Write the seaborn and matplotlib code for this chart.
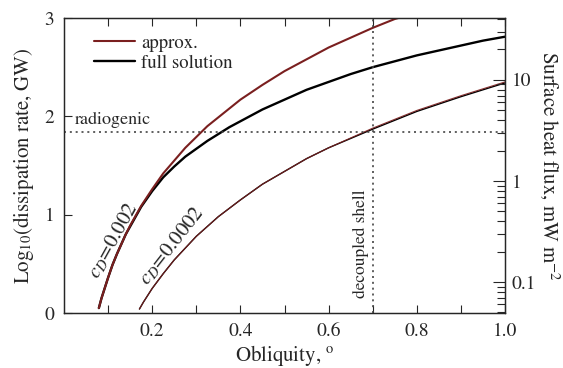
import numpy as np
import pandas as pd
import matplotlib
matplotlib.use("Agg")
import matplotlib.pyplot as plt
from matplotlib.lines import Line2D
from matplotlib.ticker import MultipleLocator, LogLocator, NullFormatter, FixedLocator
import seaborn as sns

# values
obl_approx_hi = [0.079, 0.085, 0.09, 0.10, 0.11, 0.12, 0.13, 0.14, 0.15, 0.175, 0.20,
                 0.225, 0.25, 0.275, 0.30, 0.325, 0.35, 0.40, 0.45, 0.50, 0.55, 0.60,
                 0.65, 0.70, 0.75, 0.758]
log_approx_hi = [0.05, 0.15, 0.22, 0.36, 0.49, 0.60, 0.70, 0.80, 0.89, 1.09, 1.26,
                 1.42, 1.55, 1.68, 1.79, 1.90, 1.99, 2.17, 2.32, 2.46, 2.58, 2.70,
                 2.80, 2.90, 2.99, 3.00]

obl_full_hi = [0.079, 0.085, 0.09, 0.10, 0.11, 0.12, 0.13, 0.14, 0.15, 0.175, 0.20,
               0.225, 0.25, 0.275, 0.30, 0.325, 0.35, 0.375, 0.40, 0.45, 0.50, 0.55,
               0.60, 0.65, 0.70, 0.75, 0.80, 0.85, 0.90, 0.95, 1.00]
log_full_hi = [0.05, 0.15, 0.22, 0.36, 0.49, 0.60, 0.70, 0.80, 0.88, 1.08, 1.24,
               1.38, 1.49, 1.59, 1.67, 1.75, 1.82, 1.89, 1.95, 2.07, 2.17, 2.27,
               2.35, 2.43, 2.50, 2.56, 2.62, 2.67, 2.72, 2.77, 2.81]

obl_lo = [0.171, 0.18, 0.19, 0.20, 0.225, 0.25, 0.275, 0.30, 0.35, 0.40, 0.45, 0.50,
          0.55, 0.60, 0.70, 0.80, 0.90, 1.00]
log_approx_lo = [0.04, 0.11, 0.18, 0.25, 0.40, 0.54, 0.66, 0.78, 0.98, 1.15, 1.31, 1.44,
                 1.57, 1.68, 1.88, 2.06, 2.21, 2.35]
log_full_lo = [0.04, 0.11, 0.18, 0.25, 0.40, 0.54, 0.66, 0.78, 0.98, 1.15, 1.31, 1.44,
               1.57, 1.68, 1.87, 2.05, 2.20, 2.34]

radiogenic = 1.84
decoupled = 0.70

RED = "#7a1f1f"

sns.set_style("ticks")
plt.rcParams["font.family"] = ["STIXGeneral", "Liberation Serif", "DejaVu Serif"]
plt.rcParams["mathtext.fontset"] = "stix"

fig, ax = plt.subplots(figsize=(5.63, 3.68), dpi=100)
fig.subplots_adjust(left=0.1137, right=0.897, bottom=0.1495, top=0.951)

sns.lineplot(x=obl_full_hi, y=log_full_hi, ax=ax, color="black", lw=1.7, sort=False)
sns.lineplot(x=obl_approx_hi, y=log_approx_hi, ax=ax, color=RED, lw=1.5, sort=False)
sns.lineplot(x=obl_lo, y=log_full_lo, ax=ax, color="black", lw=1.0, sort=False)
sns.lineplot(x=obl_lo, y=log_approx_lo, ax=ax, color=RED, lw=0.8, sort=False, alpha=0.9)

# dotted reference lines
ax.axhline(radiogenic, color="#444444", ls=(0, (1.2, 2.3)), lw=1.2)
ax.axvline(decoupled, color="#444444", ls=(0, (1.2, 2.3)), lw=1.2)

ax.text(0.025, radiogenic + 0.04, "radiogenic", fontsize=13, ha="left", va="bottom")
ax.text(decoupled - 0.008, 0.15, "decoupled shell", fontsize=12.5, rotation=90,
        ha="right", va="bottom")
ax.text(0.113, 0.74, "$c_D$=0.002", fontsize=15, rotation=61, ha="center", va="center")
ax.text(0.245, 0.68, "$c_D$=0.0002", fontsize=15, rotation=52, ha="center", va="center")

ax.set_xlim(0, 1.0)
ax.set_ylim(0, 3)
ax.xaxis.set_major_locator(FixedLocator([0.2, 0.4, 0.6, 0.8, 1.0]))
ax.xaxis.set_minor_locator(FixedLocator([0.1, 0.3, 0.5, 0.7, 0.9]))
ax.set_xticklabels(["0.2", "0.4", "0.6", "0.8", "1.0"])
ax.yaxis.set_major_locator(MultipleLocator(1))
ax.tick_params(axis="both", which="both", direction="in", labelsize=14,
               top=True, right=False, width=0.8)
ax.tick_params(axis="x", which="both", length=6, pad=7)
ax.tick_params(axis="y", which="major", length=6, pad=7)
ax.set_xlabel("Obliquity, $^{\\mathrm{o}}$", fontsize=15, labelpad=2)
ax.set_ylabel("Log$_{10}$(dissipation rate, GW)", fontsize=15, labelpad=6)
for s in ax.spines.values():
    s.set_linewidth(0.9)

ax2 = ax.twinx()
ax2.set_yscale("log")
ax2.set_ylim(0.0494, 40.9)
ax2.yaxis.set_minor_locator(LogLocator(base=10, subs=np.arange(2, 10), numticks=10))
ax2.yaxis.set_minor_formatter(NullFormatter())
ax2.set_yticks([0.1, 1, 10])
ax2.set_yticklabels(["0.1", "1", "10"])
ax2.tick_params(axis="y", which="major", direction="in", length=9, width=0.8,
                labelsize=14, pad=5)
ax2.tick_params(axis="y", which="minor", direction="in", length=6, width=0.8)
ax2.set_ylabel("Surface heat flux, mW m$^{-2}$", fontsize=15, rotation=270,
               labelpad=18)
for s in ax2.spines.values():
    s.set_linewidth(0.9)

handles = [Line2D([], [], color=RED, lw=1.5), Line2D([], [], color="black", lw=1.7)]
ax.legend(handles, ["approx.", "full solution"], loc="upper left", frameon=False,
          fontsize=13.5, handlelength=2.2, handletextpad=0.3, labelspacing=0.15,
          bbox_to_anchor=(0.03, 1.0))

fig.savefig("out.png", dpi=100)
